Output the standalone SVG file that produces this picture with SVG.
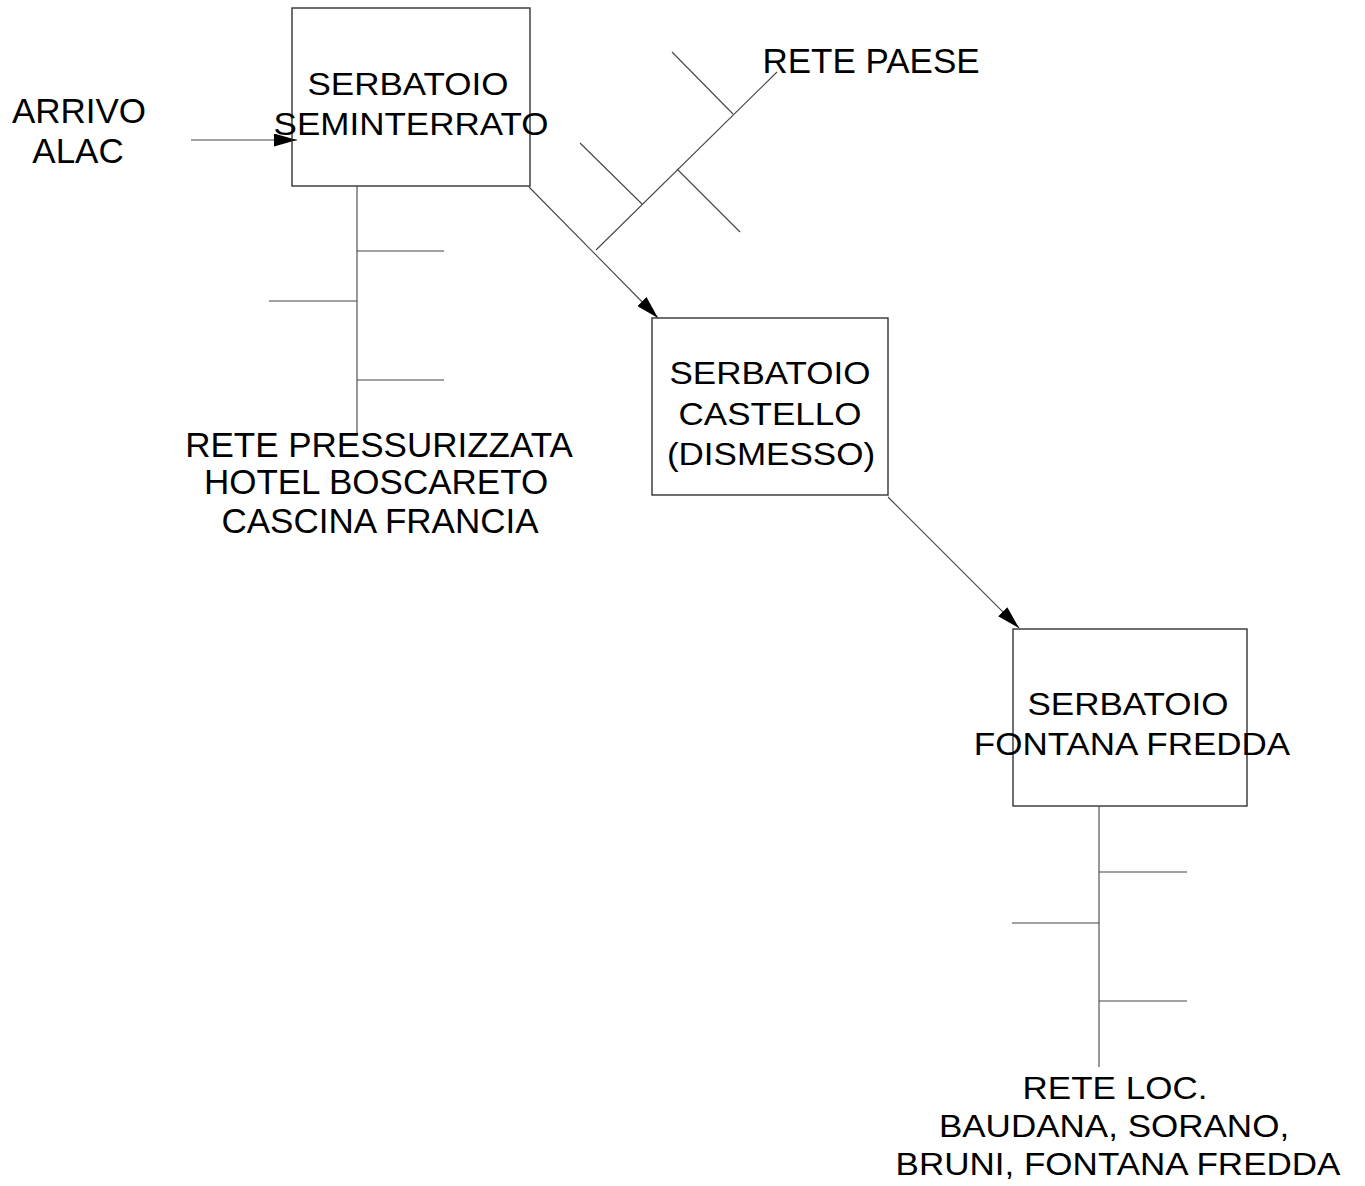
<svg xmlns="http://www.w3.org/2000/svg" width="1365" height="1186" viewBox="0 0 1365 1186">
<defs>
<style>
.box{fill:none;stroke:#333;stroke-width:1.4}
.ln{fill:none;stroke:#444;stroke-width:1.1}
.t{font-family:"Liberation Sans",Arial,sans-serif;fill:#000;text-anchor:middle}
.lg{font-size:35px}
.sm{font-size:31px}
</style>
<marker id="ah" markerUnits="userSpaceOnUse" markerWidth="25" markerHeight="13" refX="23" refY="6.5" orient="auto">
<path d="M0,0 L23,6.5 L0,13 Z" fill="#000"/>
</marker>
</defs>
<rect width="1365" height="1186" fill="#fff"/>

<g id="connectors">
<line class="ln" x1="191" y1="140" x2="297" y2="140" marker-end="url(#ah)"/>
<line class="ln" x1="529" y1="187" x2="658" y2="318" marker-end="url(#ah)"/>
<line class="ln" x1="888" y1="497" x2="1019" y2="628" marker-end="url(#ah)"/>
</g>

<g id="arrivo-alac">
<text class="t lg" x="79" y="123">ARRIVO</text>
<text class="t lg" x="78" y="163">ALAC</text>
</g>

<g id="serbatoio-seminterrato">
<rect class="box" x="292" y="8" width="238" height="178"/>
<text class="t sm" transform="matrix(1.13 0 0 1 408 95)">SERBATOIO</text>
<text class="t sm" transform="matrix(1.13 0 0 1 411 135)">SEMINTERRATO</text>
</g>

<g id="rete-paese">
<line class="ln" x1="596" y1="250" x2="777" y2="72"/>
<line class="ln" x1="672" y1="52" x2="733" y2="114"/>
<line class="ln" x1="580" y1="143" x2="642" y2="204"/>
<line class="ln" x1="677" y1="169" x2="740" y2="232"/>
<text class="t lg" x="871" y="73">RETE PAESE</text>
</g>

<g id="rete-pressurizzata">
<line class="ln" x1="357" y1="186" x2="357" y2="435"/>
<line class="ln" x1="357" y1="251" x2="444" y2="251"/>
<line class="ln" x1="269" y1="301" x2="357" y2="301"/>
<line class="ln" x1="357" y1="380" x2="444" y2="380"/>
<text class="t lg" x="379" y="457">RETE PRESSURIZZATA</text>
<text class="t lg" x="376" y="494">HOTEL BOSCARETO</text>
<text class="t lg" x="380" y="533">CASCINA FRANCIA</text>
</g>

<g id="serbatoio-castello">
<rect class="box" x="652" y="318" width="236" height="177"/>
<text class="t sm" transform="matrix(1.13 0 0 1 770 384)">SERBATOIO</text>
<text class="t sm" transform="matrix(1.13 0 0 1 770 425)">CASTELLO</text>
<text class="t sm" transform="matrix(1.13 0 0 1 771 465)">(DISMESSO)</text>
</g>

<g id="serbatoio-fontana-fredda">
<rect class="box" x="1013" y="629" width="234" height="177"/>
<text class="t sm" transform="matrix(1.13 0 0 1 1128 715)">SERBATOIO</text>
<text class="t sm" transform="matrix(1.13 0 0 1 1132 755)">FONTANA FREDDA</text>
</g>

<g id="rete-loc">
<line class="ln" x1="1099" y1="806" x2="1099" y2="1067"/>
<line class="ln" x1="1099" y1="872" x2="1187" y2="872"/>
<line class="ln" x1="1012" y1="923" x2="1099" y2="923"/>
<line class="ln" x1="1099" y1="1001" x2="1187" y2="1001"/>
<text class="t sm" transform="matrix(1.13 0 0 1 1115 1099)">RETE LOC.</text>
<text class="t sm" transform="matrix(1.13 0 0 1 1114 1137)">BAUDANA, SORANO,</text>
<text class="t sm" transform="matrix(1.13 0 0 1 1118 1175)">BRUNI, FONTANA FREDDA</text>
</g>
</svg>
